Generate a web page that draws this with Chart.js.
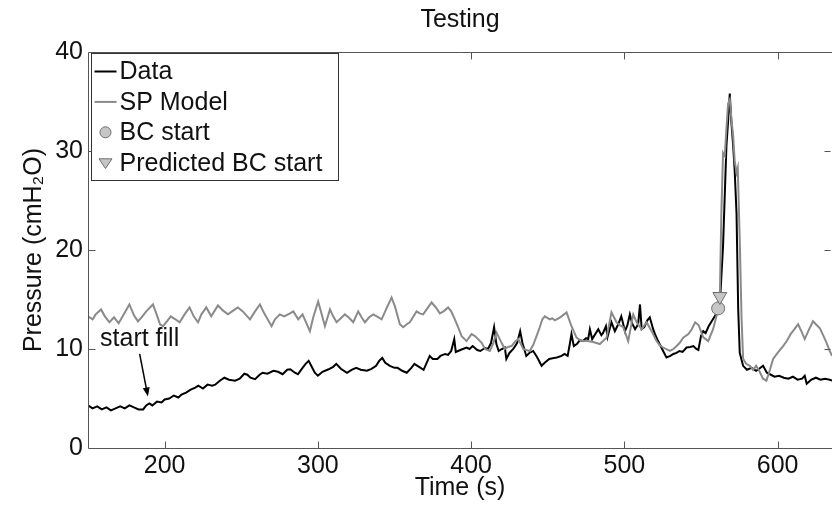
<!DOCTYPE html>
<html>
<head>
<meta charset="utf-8">
<script src="https://cdn.jsdelivr.net/npm/chart.js@4.4.1/dist/chart.umd.min.js"></script>
<style>
html, body { margin: 0; padding: 0; background: #fff; }
</style>
</head>
<body>
<canvas id="chart" width="832" height="506"></canvas>
<script>
// 座標軸
var xTicks = [200, 300, 400, 500, 600];
var yTicks = [0, 10, 20, 30, 40];
var xMin = 150, xMax = 635.5;
var yMin = 0, yMax = 40;

// 量測資料 (Data)
var dataTime = [150, 153, 156, 159, 162, 165, 168, 171, 174, 177,
    180, 183, 186, 188, 190, 192, 195, 198, 200, 203,
    206, 209, 211, 214, 217, 220, 222, 225, 228, 231,
    233, 236, 239, 242, 246, 249, 252, 254, 256, 259,
    262, 264, 267, 271, 274, 277, 280, 282, 285, 287,
    290, 292, 294, 296, 298, 300, 303, 307, 310, 312,
    315, 319, 322, 325, 328, 332, 335, 338, 340, 342,
    344, 347, 350, 352, 355, 358, 361, 363, 366, 369,
    371, 373, 375, 378, 380, 383, 385, 387, 389, 390,
    393, 397, 399, 401, 404, 406, 409, 411, 413, 415,
    416.5, 418, 420, 422, 423, 425, 427.5, 430, 432, 433.5,
    436, 438, 440.5, 443, 446, 448, 451, 454, 456, 459,
    461, 463, 464.4, 465.5, 467, 469, 471, 473, 475, 476.4,
    477.5, 479, 481, 483, 485, 486, 488, 489, 491.6, 493.8,
    496, 498, 500.4, 502, 503.6, 505, 507, 509, 510.2, 511.3,
    513, 515, 516.6, 518.8, 520, 522, 524, 525.3, 527.5, 530,
    532, 534, 536, 538, 540.6, 543, 545, 547, 548.3, 550,
    551.5, 553, 555, 557, 559, 561, 562.2, 564.4, 566.6, 567.7,
    568.8, 569.8, 571, 572, 573.2, 574.3, 575.3, 577.5, 580, 583,
    586, 588, 590.5, 593, 595, 598, 601, 604, 607, 610,
    613, 616, 617.7, 619, 622, 625, 628, 631, 634, 636];
var dataPressure = [4.3, 4.0, 4.2, 3.9, 4.1, 3.8, 4.0, 4.2, 4.0, 4.3,
    4.1, 3.9, 3.9, 4.3, 4.5, 4.3, 4.7, 4.6, 4.9, 5.0,
    5.3, 5.1, 5.4, 5.6, 5.9, 6.1, 6.3, 6.0, 6.4, 6.3,
    6.4, 6.8, 7.1, 6.9, 6.8, 7.0, 7.5, 7.4, 7.1, 6.95,
    7.4, 7.6, 7.5, 7.8, 7.7, 7.45, 7.9, 7.95, 7.6, 7.45,
    8.1, 8.5, 8.8, 8.2, 7.6, 7.3, 7.7, 7.95, 8.2, 8.5,
    8.0, 7.6, 7.9, 8.1, 7.9, 7.8, 8.0, 8.3, 8.8, 9.1,
    8.6, 8.3, 8.1, 8.1, 7.8, 7.6, 8.1, 8.5, 8.2, 7.9,
    8.6, 9.3, 9.0, 9.0, 9.3, 9.5, 9.4, 9.8, 11.0, 9.7,
    9.9, 10.15, 10.0, 10.3, 9.9, 9.8, 10.1, 10.0, 10.6, 12.2,
    10.5, 9.8, 10.0, 10.15, 9.0, 9.6, 10.0, 10.6, 11.8, 10.6,
    9.3, 9.6, 9.8, 9.2, 8.3, 8.6, 9.0, 9.1, 9.15, 9.3,
    9.5, 9.3, 10.5, 11.5, 10.3, 10.5, 10.9, 10.8, 11.1, 11.0,
    12.0, 11.0, 11.5, 12.0, 11.4, 11.6, 12.3, 11.2, 12.7, 11.8,
    12.5, 13.3, 11.8, 12.4, 13.5, 12.6, 12.0, 12.5, 14.5, 12.0,
    12.2, 12.9, 13.2, 12.0, 11.5, 10.8, 10.2, 9.8, 9.15, 9.3,
    9.5, 9.6, 9.8, 9.7, 10.15, 10.2, 10.3, 10.0, 9.9, 11.3,
    11.8, 11.6, 12.3, 12.8, 13.3, 13.8, 14.2, 20.4, 30.5, 33.0,
    35.8, 33.0, 30.5, 28.0, 23.7, 14.0, 9.6, 8.3, 7.9, 8.1,
    7.8, 8.0, 8.3, 7.6, 7.45, 7.2, 7.3, 7.1, 7.0, 7.2,
    6.9, 7.0, 7.3, 6.5, 6.9, 7.1, 6.9, 7.0, 6.9, 6.8];

// SP 模型 (SP Model)
var modelTime = [150, 153, 155, 158.5, 161, 164, 167, 170, 173, 177,
    180, 182.6, 185, 188, 192.4, 195, 197, 199, 202, 204,
    207, 209.8, 213, 216.3, 219, 221.8, 224, 227.2, 230.4, 234.8,
    238, 241.3, 244, 247.8, 251, 255.7, 259, 262.2, 265, 269.8,
    272, 275.2, 278, 281.8, 284, 287.2, 290, 292, 294.8, 297,
    300.2, 302.5, 304.6, 307.9, 310, 312.2, 315, 317.6, 320, 323.1,
    326.3, 328.5, 330.7, 333.5, 336.1, 338.5, 341.6, 344.5, 348.1, 350.3,
    353.5, 355.7, 358, 360, 362, 364.4, 366.5, 368.7, 371, 374.2,
    377, 379.6, 382, 385, 387, 389.4, 391.5, 393.8, 397, 400.3,
    402.5, 404.6, 407, 409, 412.2, 414.5, 416.6, 419, 422, 424,
    426.4, 428.5, 430.7, 432.5, 434, 436, 438.3, 440.5, 442.7, 444.8,
    446.5, 448.1, 451.4, 453, 454.6, 457, 459, 462.3, 465.5, 468.8,
    471, 473.1, 476, 479.6, 484, 488.4, 491.6, 494.9, 497, 499.3,
    502.5, 505.8, 508, 511.3, 514.5, 517.8, 521, 523, 525.3, 529.7,
    532, 534.1, 536.3, 538.4, 541.8, 544, 546.2, 548.5, 551.4, 554.7,
    557.9, 560.1, 562.3, 563.3, 564.4, 565.5, 566.5, 567.7, 568.8, 570,
    571, 572, 573.2, 574, 575.3, 576.5, 577.5, 579.5, 581.9, 584,
    586, 588, 590.5, 592.7, 595, 597.1, 600, 603.6, 606, 608.5,
    611, 613.4, 615.5, 617.7, 620, 623.1, 625, 627.6, 630, 631.9,
    634, 635.5];
var modelPressure = [13.3, 13.0, 13.5, 14.0, 13.3, 12.7, 13.2, 12.6, 13.4, 14.5,
    13.4, 12.8, 13.2, 13.8, 14.5, 13.4, 12.5, 12.3, 12.9, 13.3,
    13.0, 12.7, 13.5, 14.2, 13.3, 12.7, 13.5, 14.2, 13.3, 14.4,
    13.9, 13.5, 13.8, 14.2, 13.8, 13.0, 13.8, 14.5, 13.6, 12.3,
    13.0, 13.5, 13.3, 13.6, 13.8, 13.0, 13.5, 12.8, 11.8, 13.2,
    14.8, 13.5, 12.3, 14.0, 13.3, 12.7, 13.1, 13.5, 13.2, 12.7,
    13.8, 13.2, 12.7, 13.2, 13.5, 13.3, 13.0, 14.0, 15.2, 14.3,
    12.5, 12.2, 12.5, 12.7, 13.2, 13.8, 13.6, 13.5, 14.0, 14.7,
    14.2, 13.6, 13.8, 14.2, 13.8, 13.0, 12.2, 11.3, 10.8, 11.5,
    11.3, 11.0, 10.6, 10.0, 9.8, 10.6, 11.65, 10.9, 10.0, 10.2,
    10.3, 10.7, 11.0, 10.5, 10.0, 9.9, 9.8, 10.4, 11.3, 12.2,
    13.0, 13.3, 13.0, 13.1, 12.9, 13.1, 13.3, 13.7, 12.3, 11.15,
    10.9, 10.8, 10.8, 10.7, 10.5, 11.15, 13.7, 12.7, 12.4, 12.2,
    10.8, 13.5, 12.7, 12.0, 12.7, 11.8, 10.8, 10.4, 10.15, 9.8,
    10.0, 10.3, 10.65, 11.15, 11.5, 12.0, 12.7, 12.4, 11.2, 10.8,
    12.0, 13.3, 15.3, 23.7, 29.8, 29.5, 32.0, 34.8, 35.2, 33.0,
    31.5, 29.0, 27.8, 28.3, 21.0, 13.0, 9.0, 8.5, 8.3, 7.9,
    8.3, 7.8, 7.0, 6.8, 7.9, 9.0, 9.6, 10.3, 10.8, 11.5,
    12.0, 12.5, 11.8, 11.0, 11.8, 12.8, 12.5, 12.1, 11.3, 10.65,
    9.8, 9.3];

// 標記點
var bcStart = { x: 561.2, y: 14.1 };
var predictedBcStart = { x: 562.3, y: 15.3 };

// 註解 "start fill"
var noteText = 'start fill';
var noteTextPos = { x: 183.7, y: 11.0 };
var noteArrowFrom = { x: 183.7, y: 9.5 };
var noteArrowTo = { x: 189.1, y: 5.2 };

var FONT = "'Liberation Sans', Arial, sans-serif";
var AXIS_COLOR = '#555';
var TEXT_COLOR = '#111';

function toPoints(xs, ys) {
    return xs.map(function (x, i) { return { x: x, y: ys[i] }; });
}

// 座標框與內側刻度
var boxPlugin = {
    id: 'boxAxes',
    afterDatasetsDraw: function (chart) {
        var ctx = chart.ctx;
        var a = chart.chartArea;
        var xs = chart.scales.x, ys = chart.scales.y;
        var L = Math.round(a.left) + 0.5, T = Math.round(a.top) + 0.5, B = Math.round(a.bottom) + 0.5;
        var R = a.right - 1.5;
        ctx.save();
        ctx.strokeStyle = AXIS_COLOR;
        ctx.lineWidth = 1;
        ctx.beginPath();
        ctx.moveTo(a.right + 2, T); ctx.lineTo(L, T); ctx.lineTo(L, B); ctx.lineTo(a.right + 2, B);
        xTicks.forEach(function (v) {
            var px = Math.round(xs.getPixelForValue(v)) + 0.5;
            ctx.moveTo(px, B); ctx.lineTo(px, B - 7);
            ctx.moveTo(px, T); ctx.lineTo(px, T + 7);
        });
        yTicks.forEach(function (v) {
            if (v === yMin || v === yMax) return;
            var py = Math.round(ys.getPixelForValue(v)) + 0.5;
            ctx.moveTo(L, py); ctx.lineTo(L + 7, py);
            ctx.moveTo(R, py); ctx.lineTo(R - 6, py);
        });
        ctx.stroke();

        // 註解
        var fx = xs.getPixelForValue(noteArrowFrom.x), fy = ys.getPixelForValue(noteArrowFrom.y);
        var tx = xs.getPixelForValue(noteArrowTo.x), ty = ys.getPixelForValue(noteArrowTo.y);
        var ang = Math.atan2(ty - fy, tx - fx);
        ctx.strokeStyle = '#000';
        ctx.fillStyle = '#000';
        ctx.lineWidth = 1.5;
        ctx.beginPath();
        ctx.moveTo(fx, fy);
        ctx.lineTo(tx - 6 * Math.cos(ang), ty - 6 * Math.sin(ang));
        ctx.stroke();
        ctx.beginPath();
        ctx.moveTo(tx, ty);
        ctx.lineTo(tx - 9 * Math.cos(ang) + 3.5 * Math.sin(ang), ty - 9 * Math.sin(ang) - 3.5 * Math.cos(ang));
        ctx.lineTo(tx - 9 * Math.cos(ang) - 3.5 * Math.sin(ang), ty - 9 * Math.sin(ang) + 3.5 * Math.cos(ang));
        ctx.closePath();
        ctx.fill();
        ctx.font = '25px ' + FONT;
        ctx.fillStyle = TEXT_COLOR;
        ctx.textAlign = 'center';
        ctx.textBaseline = 'middle';
        ctx.fillText(noteText, xs.getPixelForValue(noteTextPos.x), ys.getPixelForValue(noteTextPos.y));
        ctx.restore();
    }
};

// 圖框內的圖例
function drawMarker(ctx, style, x, y, r, fill, stroke) {
    ctx.beginPath();
    if (style === 'circle') {
        ctx.arc(x, y, r, 0, Math.PI * 2);
    } else {
        ctx.moveTo(x - r, y - r * 0.6);
        ctx.lineTo(x + r, y - r * 0.6);
        ctx.lineTo(x, y + r * 0.9);
        ctx.closePath();
    }
    ctx.fillStyle = fill;
    ctx.fill();
    ctx.strokeStyle = stroke;
    ctx.lineWidth = 1;
    ctx.stroke();
}

var legendPlugin = {
    id: 'insideLegend',
    afterDraw: function (chart) {
        var ctx = chart.ctx;
        var a = chart.chartArea;
        var x0 = Math.round(a.left) + 3.5, y0 = Math.round(a.top) + 1.5;
        ctx.save();
        ctx.fillStyle = '#fff';
        ctx.fillRect(x0, y0, 247, 127);
        ctx.strokeStyle = '#333';
        ctx.lineWidth = 1;
        ctx.strokeRect(x0, y0, 247, 127);
        ctx.font = '25px ' + FONT;
        ctx.textBaseline = 'middle';
        ctx.textAlign = 'left';
        chart.data.datasets.forEach(function (ds, i) {
            var y = y0 + 18 + i * 30.4;
            if (ds.showLine === false) {
                drawMarker(ctx, ds.legendMarker, x0 + 14, y, ds.legendMarker === 'circle' ? 5.5 : 6.5, ds.backgroundColor, ds.borderColor);
            } else {
                ctx.strokeStyle = ds.borderColor;
                ctx.lineWidth = ds.borderWidth;
                ctx.beginPath();
                ctx.moveTo(x0 + 3, y); ctx.lineTo(x0 + 25, y);
                ctx.stroke();
            }
            ctx.fillStyle = TEXT_COLOR;
            ctx.fillText(ds.label, x0 + 28, y + 1);
        });
        ctx.restore();
    }
};

var chart = new Chart(document.getElementById('chart').getContext('2d'), {
    type: 'line',
    data: {
        datasets: [{
            label: 'Data',
            data: toPoints(dataTime, dataPressure),
            borderColor: '#000',
            borderWidth: 2,
            pointRadius: 0,
            tension: 0,
            order: 3
        }, {
            label: 'SP Model',
            data: toPoints(modelTime, modelPressure),
            borderColor: '#8a8a8a',
            borderWidth: 2,
            pointRadius: 0,
            tension: 0,
            order: 2
        }, {
            label: 'BC start',
            data: [bcStart],
            showLine: false,
            legendMarker: 'circle',
            pointStyle: 'circle',
            pointRadius: 6.5,
            backgroundColor: '#c6c6c6',
            borderColor: '#6e6e6e',
            pointBorderWidth: 1,
            order: 1
        }, {
            label: 'Predicted BC start',
            data: [predictedBcStart],
            showLine: false,
            legendMarker: 'triangle',
            pointStyle: 'triangle',
            rotation: 180,
            pointRadius: 8,
            backgroundColor: '#c6c6c6',
            borderColor: '#6e6e6e',
            pointBorderWidth: 1,
            order: 0
        }]
    },
    options: {
        responsive: false,
        animation: false,
        devicePixelRatio: 1,
        layout: { padding: 0, autoPadding: false },
        plugins: {
            legend: { display: false },
            tooltip: { enabled: false },
            title: {
                display: true,
                text: 'Testing',
                fullSize: false,
                color: TEXT_COLOR,
                font: { family: FONT, size: 25, weight: 'normal', lineHeight: 1.2 },
                padding: { top: 5, bottom: 17 }
            }
        },
        scales: {
            x: {
                type: 'linear',
                min: xMin,
                max: xMax,
                grid: { display: false, drawTicks: false },
                border: { display: false },
                afterBuildTicks: function (s) { s.ticks = xTicks.map(function (v) { return { value: v }; }); },
                afterFit: function (s) { s.height = 58; },
                ticks: {
                    color: TEXT_COLOR, padding: 3, maxRotation: 0, autoSkip: false,
                    font: { family: FONT, size: 25, lineHeight: 1.2 }
                },
                title: {
                    display: true, text: 'Time (s)', color: TEXT_COLOR,
                    font: { family: FONT, size: 25, lineHeight: 1.2 },
                    padding: { top: 0, bottom: 3 }
                }
            },
            y: {
                type: 'linear',
                min: yMin,
                max: yMax,
                grid: { display: false, drawTicks: false },
                border: { display: false },
                afterBuildTicks: function (s) { s.ticks = yTicks.map(function (v) { return { value: v }; }); },
                afterFit: function (s) { s.width = 88; },
                ticks: {
                    color: TEXT_COLOR, padding: 5,
                    font: { family: FONT, size: 25, lineHeight: 1.2 }
                },
                title: {
                    display: true, text: 'Pressure (cmH₂O)', color: TEXT_COLOR,
                    font: { family: FONT, size: 25, lineHeight: 1.2 },
                    padding: { top: 19, bottom: 0 }
                }
            }
        }
    },
    plugins: [boxPlugin, legendPlugin]
});
</script>
</body>
</html>
